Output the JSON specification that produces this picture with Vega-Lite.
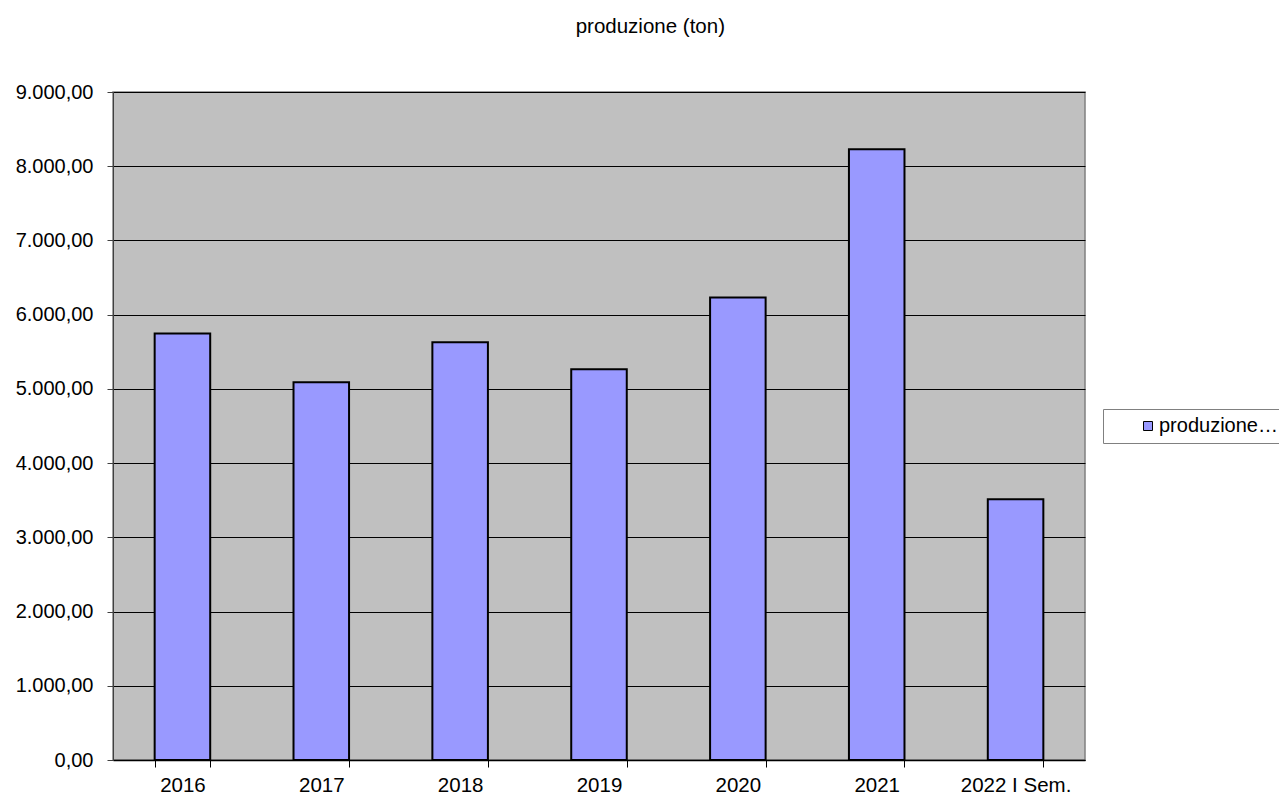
{
  "$schema": "https://vega.github.io/schema/vega-lite/v6.json",
  "autosize": {"type": "none"},
  "width": 972,
  "height": 668,
  "padding": {"left": 113, "top": 92, "right": 194, "bottom": 37},
  "background": "white",
  "title": {"text": "produzione (ton)", "fontSize": 20.5, "fontWeight": "normal", "font": "Liberation Sans", "color": "black", "anchor": "middle", "frame": "bounds", "offset": 45},
  "config": {
    "locale": {"number": {"decimal": ",", "thousands": ".", "grouping": [3], "currency": ["€", ""]}},
    "view": {"fill": "#C0C0C0", "stroke": "#808080", "strokeWidth": 1.5},
    "font": "Liberation Sans"
  },
  "data": {"values": [
    {"anno": "2016", "produzione": 5745, "serie": "produzione (ton)"},
    {"anno": "2017", "produzione": 5090, "serie": "produzione (ton)"},
    {"anno": "2018", "produzione": 5627, "serie": "produzione (ton)"},
    {"anno": "2019", "produzione": 5263, "serie": "produzione (ton)"},
    {"anno": "2020", "produzione": 6230, "serie": "produzione (ton)"},
    {"anno": "2021", "produzione": 8230, "serie": "produzione (ton)"},
    {"anno": "2022 I Sem.", "produzione": 3514, "serie": "produzione (ton)"}
  ]},
  "mark": {"type": "bar", "stroke": "black", "strokeWidth": 2},
  "encoding": {
    "x": {"field": "anno", "type": "nominal", "sort": null,
      "scale": {"paddingInner": 0.6, "paddingOuter": 0.3},
      "axis": {"title": null, "labelAngle": 0, "labelFontSize": 20.5, "labelColor": "black", "labelPadding": 8,
        "tickBand": "extent", "tickSize": 7, "tickColor": "black", "domainColor": "black", "domainWidth": 1.5, "grid": false}},
    "y": {"field": "produzione", "type": "quantitative",
      "scale": {"domain": [0, 9000]},
      "axis": {"title": null, "format": ",.2f", "values": [0,1000,2000,3000,4000,5000,6000,7000,8000,9000],
        "labelFontSize": 20, "labelColor": "black", "labelPadding": 14, "tickSize": 6, "tickColor": "#404040",
        "domainColor": "#404040", "grid": true, "gridColor": "black", "gridWidth": 1, "gridOpacity": 1}},
    "color": {"field": "serie", "type": "nominal",
      "scale": {"range": ["#9999FF"]},
      "legend": {"title": null, "orient": "none", "legendX": 990, "legendY": 317,
        "labelExpr": "'produzione…'", "labelFontSize": 20, "labelColor": "black",
        "symbolType": "square", "symbolSize": 81, "symbolStrokeColor": "black", "symbolStrokeWidth": 1, "symbolOpacity": 1,
        "symbolOffset": 28, "labelOffset": 1, "padding": 7,
        "strokeColor": "#808080", "fillColor": "white"}}
  }
}
